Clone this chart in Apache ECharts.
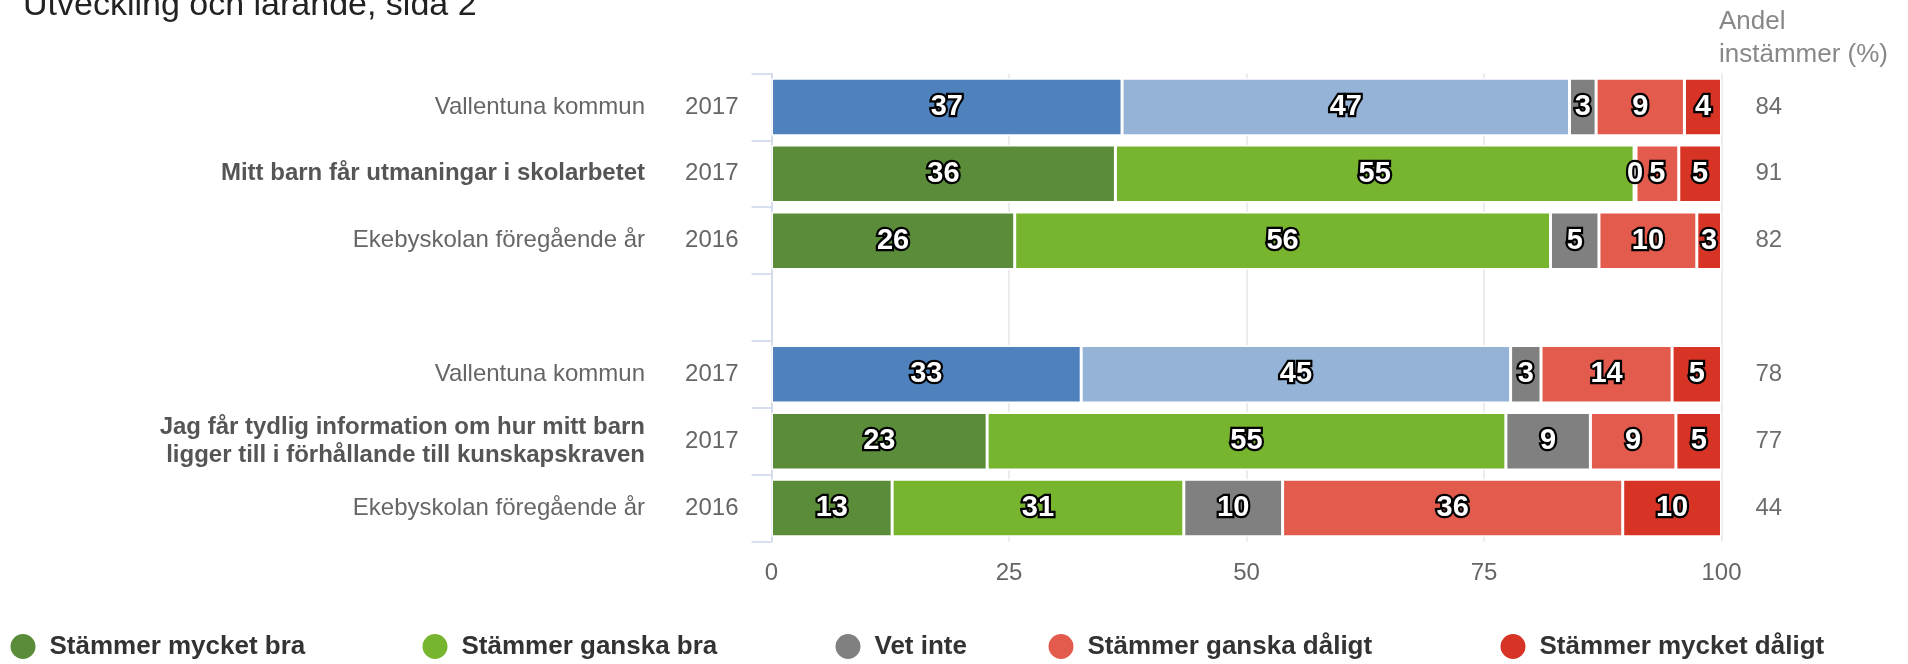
<!DOCTYPE html>
<html>
<head>
<meta charset="utf-8">
<script src="https://cdn.jsdelivr.net/npm/echarts@6/dist/echarts.min.js"></script>
<style>
  html, body { margin: 0; padding: 0; background: #fff; }
  #chart { width: 1908px; height: 664px; }
</style>
</head>
<body>
<div id="chart"></div>
<script>
// rader uppifrån och ned, tom rad skiljer de två frågorna
const categories = [
  'Vallentuna kommun',
  'Mitt barn får utmaningar i skolarbetet',
  'Ekebyskolan föregående år',
  '',
  'Vallentuna kommun',
  'Jag får tydlig information om hur mitt barn\nligger till i förhållande till kunskapskraven',
  'Ekebyskolan föregående år'
];
const years = ['2017', '2017', '2016', '', '2017', '2017', '2016'];
const andelInstammer = ['84', '91', '82', '', '78', '77', '44'];

const seriesNames = ['Stämmer mycket bra', 'Stämmer ganska bra', 'Vet inte', 'Stämmer ganska dåligt', 'Stämmer mycket dåligt'];
const mycketBra    = [36.9, 36.2, 25.6, null, 32.6, 22.7, 12.7];
const ganskaBra    = [47.1, 54.6, 56.4, null, 45.2, 54.6, 30.7];
const vetInte      = [2.8, 0.2, 5.1, null, 3.2, 8.9, 10.4];
const ganskaDaligt = [9.3, 4.5, 10.3, null, 13.8, 9.0, 35.8];
const mycketDaligt = [3.9, 4.5, 2.6, null, 5.2, 4.8, 10.4];
const xTicks = [0, 25, 50, 75, 100];

const colors = ['#5b8c39', '#77b52f', '#808080', '#e35b4d', '#d73426'];
// kommunens rader ritas i blått
const kommunColors = ['#4f81bd', '#95b3d7'];
const boldRows = [1, 5];
const font = '"Liberation Sans", Arial, sans-serif';

const values = [mycketBra, ganskaBra, vetInte, ganskaDaligt, mycketDaligt];

const series = seriesNames.map(function (name, s) {
  return {
    name: name,
    type: 'bar',
    stack: 'total',
    barWidth: 57.5,
    itemStyle: { color: colors[s], borderColor: '#fff', borderWidth: 1.5 },
    label: {
      show: true,
      position: 'inside',
      color: '#fff',
      fontFamily: font,
      fontWeight: 'bold',
      fontSize: 29,
      textBorderColor: '#000',
      textBorderWidth: 4.5,
      formatter: function (p) { return p.value == null ? '' : Math.round(p.value); }
    },
    data: values[s].map(function (v, i) {
      if (s < 2 && categories[i] === 'Vallentuna kommun') {
        return { value: v, itemStyle: { color: kommunColors[s] } };
      }
      return v;
    })
  };
});

const chart = echarts.init(document.getElementById('chart'));
chart.setOption({
  animation: false,
  textStyle: { fontFamily: font },
  title: [
    {
      text: 'Utveckling och lärande, sida 2',
      left: 23, top: -11, padding: 0,
      textStyle: { fontFamily: font, fontSize: 34, fontWeight: 'normal', color: '#222' }
    },
    {
      text: 'Andel\ninstämmer (%)',
      left: 1719, top: 5, padding: 0,
      textStyle: { fontFamily: font, fontSize: 26, lineHeight: 33, fontWeight: 'normal', color: '#888' }
    }
  ],
  legend: seriesNames.map(function (n, i) {
    const lefts = [8.5, 420.5, 833.5, 1046.5, 1498.5];
    return {
      data: [n],
      left: lefts[i],
      top: 632,
      padding: 0,
      icon: 'circle',
      itemWidth: 27,
      itemHeight: 27,
      selectedMode: false,
      textStyle: { fontFamily: font, fontSize: 26, fontWeight: 'bold', color: '#333', padding: [0, 0, 0, 8] }
    };
  }),
  grid: { left: 771.5, right: 186.5, top: 73.5, bottom: 122.5, outerBoundsMode: 'none' },
  xAxis: {
    type: 'value',
    min: xTicks[0],
    max: xTicks[xTicks.length - 1],
    interval: xTicks[1] - xTicks[0],
    axisLine: { show: false },
    axisTick: { show: false },
    axisLabel: { color: '#666', fontSize: 24, margin: 20, fontFamily: font },
    splitLine: { show: true, lineStyle: { color: '#e6e6e6', width: 1.5 } }
  },
  yAxis: [
    {
      type: 'category',
      inverse: true,
      data: categories,
      axisLine: { show: true, lineStyle: { color: '#ccd6eb', width: 1.5 } },
      axisTick: { show: true, length: 20, lineStyle: { color: '#ccd6eb', width: 1.5 } },
      axisLabel: {
        interval: 0, margin: 33, color: '#666', fontSize: 24, fontFamily: font,
        formatter: function (v, i) { return years[i]; }
      },
      splitLine: { show: false }
    },
    {
      type: 'category',
      inverse: true,
      position: 'left',
      data: categories,
      axisLine: { show: false },
      axisTick: { show: false },
      axisLabel: {
        interval: 0, margin: 126.5, color: '#666', fontSize: 24, fontFamily: font, align: 'right',
        formatter: function (v, i) {
          if (boldRows.indexOf(i) < 0) return v;
          return v.split('\n').map(function (l) { return '{b|' + l + '}'; }).join('\n');
        },
        rich: { b: { fontWeight: 'bold', color: '#555', fontSize: 24, lineHeight: 28, fontFamily: font } }
      }
    },
    {
      type: 'category',
      inverse: true,
      position: 'right',
      data: categories,
      axisLine: { show: false },
      axisTick: { show: false },
      axisLabel: {
        interval: 0, margin: 34, color: '#6d6d6d', fontSize: 24, fontFamily: font, align: 'left',
        formatter: function (v, i) { return andelInstammer[i]; }
      }
    }
  ],
  series: series
});
</script>
</body>
</html>
